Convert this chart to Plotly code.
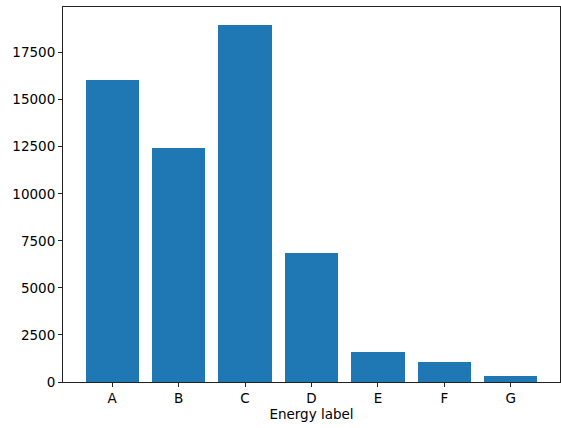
import plotly.graph_objects as go

categories = ["A", "B", "C", "D", "E", "F", "G"]
counts = [16040, 12430, 18975, 6845, 1615, 1045, 300]
y_ticks = [0, 2500, 5000, 7500, 10000, 12500, 15000, 17500]

fig = go.Figure(go.Bar(
    x=list(range(len(categories))), y=counts,
    width=0.8,
    marker=dict(color="#1f77b4", line=dict(width=0)),
))

ymax = max(counts) * 1.05
fig.update_layout(
    width=561, height=428,
    margin=dict(l=63, r=1, t=7, b=46),
    plot_bgcolor="white", paper_bgcolor="white",
    font=dict(family="DejaVu Sans", size=13.5, color="black"),
    showlegend=False,
    bargap=0,
)
fig.update_xaxes(
    range=[-0.74, 6.74],
    tickmode="array", tickvals=list(range(len(categories))), ticktext=categories,
    ticks="outside", ticklen=4, tickwidth=1, tickcolor="#222",
    showline=True, linecolor="#222", linewidth=1, mirror=True,
    showgrid=False, zeroline=False,
    title=dict(text="Energy label", standoff=2, font=dict(size=13.5)),
)
fig.update_yaxes(
    range=[0, ymax],
    tickmode="array", tickvals=y_ticks, ticktext=[str(v) for v in y_ticks],
    ticks="outside", ticklen=4, tickwidth=1, tickcolor="#222",
    showline=True, linecolor="#222", linewidth=1, mirror=True,
    showgrid=False, zeroline=False,
)

fig.write_html("out.html")
